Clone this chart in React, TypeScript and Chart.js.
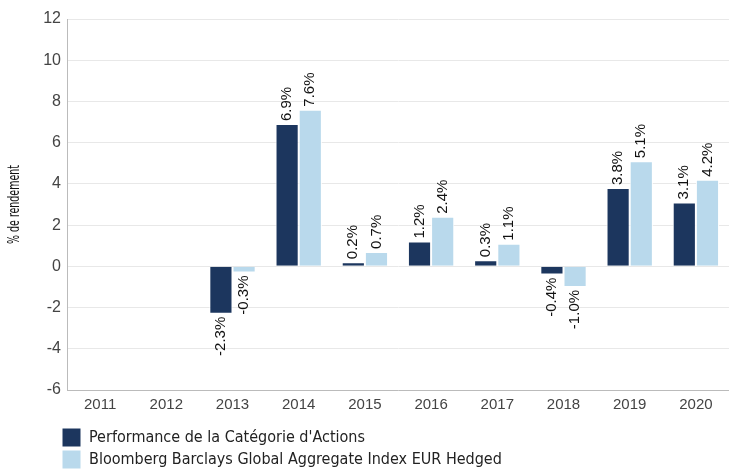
import React, { useEffect, useRef } from "react";
import { Chart, registerables } from "chart.js";

Chart.register(...registerables);

const categories = ["2011", "2012", "2013", "2014", "2015", "2016", "2017", "2018", "2019", "2020"];
const seriesNames = [
  "Performance de la Catégorie d'Actions",
  "Bloomberg Barclays Global Aggregate Index EUR Hedged",
];
const fundValues = [null, null, -2.3, 6.9, 0.2, 1.2, 0.3, -0.4, 3.8, 3.1];
const indexValues = [null, null, -0.3, 7.6, 0.7, 2.4, 1.1, -1.0, 5.1, 4.2];
const yTitle = "% de rendement";

const darkColor = "#1c365e";
const lightColor = "#b9d9ec";
const narrowFont = "'DejaVu Sans Condensed', 'Liberation Sans Narrow', sans-serif";
const sansFont = "'Liberation Sans', Arial, sans-serif";

const labelPlugin = {
  id: "barLabels",
  afterLayout(chart: any) {
    if (chart.legend) {
      chart.legend.left = 59;
      chart.legend.top += 5;
    }
  },
  afterDatasetsDraw(chart: any) {
    const ctx = chart.ctx;
    ctx.save();
    ctx.font = "15px " + sansFont;
    ctx.fillStyle = "#111";
    ctx.textBaseline = "middle";
    chart.data.datasets.forEach((ds: any, di: number) => {
      const meta = chart.getDatasetMeta(di);
      meta.data.forEach((el: any, i: number) => {
        const v = ds.data[i];
        if (v === null || v === undefined) return;
        const txt = v.toFixed(1) + "%";
        ctx.save();
        if (v >= 0) {
          ctx.translate(el.x, el.y - 3);
          ctx.rotate(-Math.PI / 2);
          ctx.textAlign = "left";
        } else {
          ctx.translate(el.x, el.y + 3);
          ctx.rotate(-Math.PI / 2);
          ctx.textAlign = "right";
        }
        ctx.fillText(txt, 0, 0);
        ctx.restore();
      });
    });
    // y-axis title, condensed
    const area = chart.chartArea;
    ctx.save();
    ctx.translate(15, (area.top + area.bottom) / 2);
    ctx.rotate(-Math.PI / 2);
    ctx.scale(0.7, 1);
    ctx.font = "15px " + narrowFont;
    ctx.fillStyle = "#111";
    ctx.textAlign = "center";
    ctx.textBaseline = "middle";
    ctx.fillText(yTitle, 0, 0);
    ctx.restore();
    ctx.restore();
  },
};

export default function App() {
  const ref = useRef<HTMLCanvasElement>(null);
  useEffect(() => {
    if (!ref.current) return;
    const chart = new Chart(ref.current, {
      type: "bar",
      data: {
        labels: categories,
        datasets: [
          {
            label: seriesNames[0],
            data: fundValues as any,
            backgroundColor: darkColor,
            borderColor: "#ffffff",
            borderWidth: 1,
            categoryPercentage: 0.7,
            barPercentage: 1,
          },
          {
            label: seriesNames[1],
            data: indexValues as any,
            backgroundColor: lightColor,
            borderColor: "#ffffff",
            borderWidth: 1,
            categoryPercentage: 0.7,
            barPercentage: 1,
          },
        ],
      },
      options: {
        animation: false,
        responsive: false,
        maintainAspectRatio: false,
        layout: { padding: { top: 19, right: -3, left: 0, bottom: -4 } },
        plugins: {
          tooltip: { enabled: false },
          legend: {
            position: "bottom",
            align: "start",
            labels: {
              boxWidth: 19,
              boxHeight: 19,
              padding: 3,
              color: "#222",
              font: { size: 16, family: narrowFont },
            },
          },
        },
        scales: {
          x: {
            grid: { display: true, color: "rgba(0,0,0,0)", drawTicks: false },
            border: { display: true, color: "#bbbbbb", width: 1 },
            ticks: { color: "#444", font: { size: 15, family: sansFont }, padding: 6 },
          },
          y: {
            min: -6,
            max: 12,
            grid: { color: "#e8e8e8", drawTicks: false },
            border: { display: true, color: "#bbbbbb", width: 1 },
            ticks: {
              stepSize: 2,
              color: "#444",
              padding: 6,
              font: { size: 16, family: sansFont },
            },
            afterFit(scale: any) {
              scale.width = 67;
            },
          },
        },
      },
      plugins: [labelPlugin],
    });
    return () => chart.destroy();
  }, []);
  return (
    <div style={{ position: "absolute", left: 0, top: 0, width: 729, height: 470 }}>
      <canvas ref={ref} width={729} height={470} style={{ display: "block" }} />
    </div>
  );
}
